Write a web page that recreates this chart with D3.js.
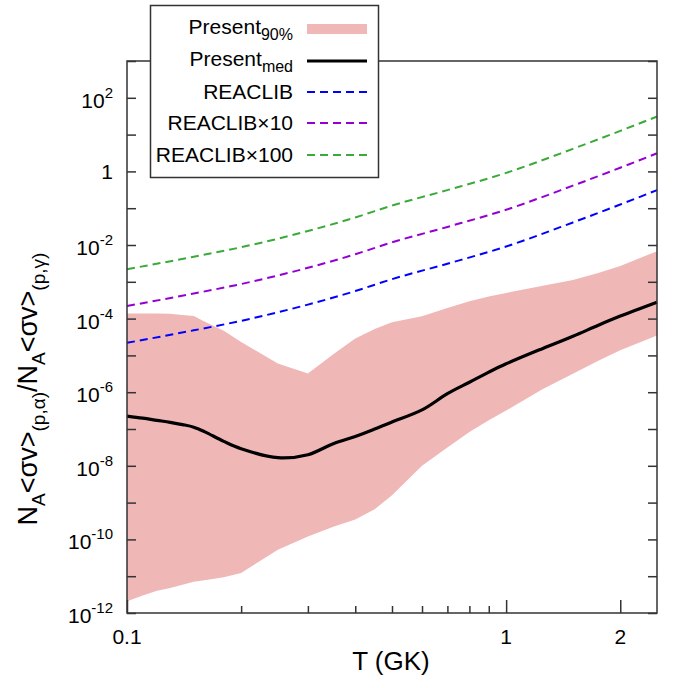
<!DOCTYPE html>
<html>
<head>
<meta charset="utf-8">
<script src="https://cdn.jsdelivr.net/npm/d3@7"></script>
<style>
  body { margin: 0; background: #fff; }
  text { font-family: "Liberation Sans", Arial, sans-serif; fill: #000; }
</style>
</head>
<body>
<div id="chart"></div>
<script>
(function () {

  // Temperature grid (GK) for the present rate
  const temps = [0.10, 0.11, 0.12, 0.13, 0.14, 0.15, 0.16, 0.18, 0.20, 0.25, 0.30, 0.35, 0.40,
    0.45, 0.50, 0.60, 0.70, 0.80, 0.90, 1.0, 1.25, 1.5, 1.75, 2.0, 2.5]
  // 90% band edges and median of the ratio
  const bandHigh = [1.38e-4, 1.38e-4, 1.38e-4, 1.35e-4, 1.26e-4, 1.17e-4, 8.3e-5, 4.7e-5, 2.3e-5, 6.0e-6,
    3.2e-6, 1.07e-5, 2.9e-5, 5.2e-5, 7.9e-5, 1.15e-4, 1.95e-4, 2.95e-4, 4.0e-4, 5.0e-4,
    7.8e-4, 1.12e-3, 1.74e-3, 2.7e-3, 6.8e-3]
  const bandLow = [2.1e-12, 3.0e-12, 4.0e-12, 4.8e-12, 5.9e-12, 7.1e-12, 7.8e-12, 9.3e-12, 1.23e-11, 5.2e-11,
    1.2e-10, 2.2e-10, 3.5e-10, 6.6e-10, 1.58e-9, 1.0e-8, 3.16e-8, 8.3e-8, 1.74e-7, 3.16e-7,
    1.23e-6, 3.16e-6, 7.1e-6, 1.38e-5, 3.5e-5]
  const median = [2.24e-7, 1.97e-7, 1.72e-7, 1.52e-7, 1.32e-7, 1.12e-7, 8.5e-8, 4.6e-8, 2.9e-8, 1.66e-8,
    2.0e-8, 4.0e-8, 6.3e-8, 1.0e-7, 1.55e-7, 3.3e-7, 9.1e-7, 1.86e-6, 3.5e-6, 5.9e-6,
    1.55e-5, 3.3e-5, 6.6e-5, 1.17e-4, 2.8e-4]

  // REACLIB ratio and the scaled copies
  const reaclibTemps = [0.1, 0.15, 0.2, 0.3, 0.4, 0.5, 0.7, 1.0, 1.5, 2.0, 2.5]
  const reaclib = [2.2e-5, 4.8e-5, 8.7e-5, 2.4e-4, 5.6e-4, 1.18e-3, 3.1e-3, 9.1e-3, 0.041, 0.126, 0.31]
  const reaclibFactors = [1, 10, 100]
  const reaclibNames = ["REACLIB", "REACLIB\u00d710", "REACLIB\u00d7100"]
  const reaclibColors = ["#0000ff", "#9400d3", "#3aaa3a"]

  const xTicksMajor = [0.1, 1, 2]
  const xTicksMinor = [0.2, 0.3, 0.4, 0.5, 0.6, 0.7, 0.8, 0.9]
  const yExponents = d3.range(-12, 4)
  const yLabelExponents = [2, 0, -2, -4, -6, -8, -10, -12]

  const W = 676, H = 688
  const margin = { top: 61, right: 19, bottom: 75, left: 127 }
  const width = W - margin.left - margin.right
  const height = H - margin.top - margin.bottom

  const svg = d3.select("#chart").append("svg")
    .attr("width", W)
    .attr("height", H)
  const g = svg.append("g")
    .attr("transform", "translate(" + margin.left + "," + margin.top + ")")

  const x = d3.scaleLog().domain([0.1, 2.5]).range([0, width])
  const y = d3.scaleLog().domain([1e-12, 1e3]).range([height, 0])

  const rows = temps.map((t, i) => ({ t: t, lo: bandLow[i], hi: bandHigh[i], med: median[i] }))

  // 90% band
  g.append("path")
    .datum(rows)
    .attr("fill", "#f0b7b7")
    .attr("d", d3.area().x(d => x(d.t)).y0(d => y(d.lo)).y1(d => y(d.hi)))

  // REACLIB dashed lines
  reaclibFactors.forEach((f, k) => {
    g.append("path")
      .datum(reaclibTemps.map((t, i) => ({ t: t, v: reaclib[i] * f })))
      .attr("fill", "none")
      .attr("stroke", reaclibColors[k])
      .attr("stroke-width", 2)
      .attr("stroke-dasharray", "8,5")
      .attr("d", d3.line().x(d => x(d.t)).y(d => y(d.v)).curve(d3.curveMonotoneX))
  })

  // median
  g.append("path")
    .datum(rows)
    .attr("fill", "none")
    .attr("stroke", "#000")
    .attr("stroke-width", 3.2)
    .attr("d", d3.line().x(d => x(d.t)).y(d => y(d.med)).curve(d3.curveCatmullRom))

  // frame
  g.append("rect")
    .attr("width", width).attr("height", height)
    .attr("fill", "none").attr("stroke", "#333").attr("stroke-width", 1.5)

  // y ticks (both sides, inward)
  const yTickVals = yExponents.map(e => Math.pow(10, e))
  g.append("g").call(d3.axisLeft(y).tickValues(yTickVals).tickSize(-9).tickFormat(""))
    .call(a => a.select(".domain").remove())
    .selectAll("line").attr("stroke", "#333").attr("stroke-width", 1.5)
  g.append("g").attr("transform", "translate(" + width + ",0)")
    .call(d3.axisRight(y).tickValues(yTickVals).tickSize(-9).tickFormat(""))
    .call(a => a.select(".domain").remove())
    .selectAll("line").attr("stroke", "#333").attr("stroke-width", 1.5)

  // x ticks
  g.append("g").attr("transform", "translate(0," + height + ")")
    .call(d3.axisBottom(x).tickValues(xTicksMajor).tickSize(-13).tickFormat(""))
    .call(a => a.select(".domain").remove())
    .selectAll("line").attr("stroke", "#333").attr("stroke-width", 1.5)
  g.append("g").attr("transform", "translate(0," + height + ")")
    .call(d3.axisBottom(x).tickValues(xTicksMinor).tickSize(-7).tickFormat(""))
    .call(a => a.select(".domain").remove())
    .selectAll("line").attr("stroke", "#333").attr("stroke-width", 1.5)

  // x tick labels
  g.selectAll(".xlab").data(xTicksMajor).join("text")
    .attr("x", d => x(d)).attr("y", height + 31)
    .attr("text-anchor", "middle").attr("font-size", 21)
    .text(d => d3.format("")(d))

  // y tick labels with superscripts
  const ylab = g.selectAll(".ylab").data(yLabelExponents).join("text")
    .attr("x", -14).attr("y", d => y(Math.pow(10, d)) + 10)
    .attr("text-anchor", "end").attr("font-size", 21)
  ylab.each(function (e) {
    const t = d3.select(this)
    if (e === 0) { t.attr("y", y(1) + 8).text("1"); return }
    t.append("tspan").text("10")
    t.append("tspan").attr("font-size", 15).attr("dy", -10).text(String(e))
  })

  // axis titles
  svg.append("text")
    .attr("x", 391).attr("y", 670)
    .attr("text-anchor", "middle").attr("font-size", 26)
    .text("T (GK)")

  const yt = svg.append("text")
    .attr("transform", "translate(37,389) rotate(-90)")
    .attr("text-anchor", "middle").attr("font-size", 26)
  const parts = [["N", 0], ["A", 1], ["<\u03c3v>", 0], ["(p,\u03b1)", 1], ["/N", 0], ["A", 1], ["<\u03c3v>", 0], ["(p,\u03b3)", 1]]
  let prev = 0
  parts.forEach(p => {
    const shift = p[1] ? 8 : 0
    yt.append("tspan")
      .attr("font-size", p[1] ? 19 : 27)
      .attr("dy", shift - prev)
      .text(p[0])
    prev = shift
  })

  // legend
  const lg = svg.append("g")
  lg.append("rect")
    .attr("x", 150.5).attr("y", 5.5).attr("width", 228).attr("height", 172)
    .attr("fill", "#fff").attr("stroke", "#333").attr("stroke-width", 1.5)
  const rowY = [29, 61, 92, 123, 155]
  const lx0 = 307, lx1 = 367, tx = 293

  lg.append("rect").attr("x", lx0).attr("y", rowY[0] - 5).attr("width", lx1 - lx0).attr("height", 10)
    .attr("fill", "#f0b7b7")
  lg.append("line").attr("x1", lx0).attr("x2", lx1).attr("y1", rowY[1]).attr("y2", rowY[1])
    .attr("stroke", "#000").attr("stroke-width", 3.2)
  reaclibNames.forEach((n, k) => {
    lg.append("line").attr("x1", lx0).attr("x2", lx1).attr("y1", rowY[k + 2]).attr("y2", rowY[k + 2])
      .attr("stroke", reaclibColors[k]).attr("stroke-width", 2).attr("stroke-dasharray", "8,5")
    lg.append("text").attr("x", tx).attr("y", rowY[k + 2] + 7)
      .attr("text-anchor", "end").attr("font-size", 21).text(n)
  })
  const presentSubs = ["90%", "med"]
  presentSubs.forEach((s, k) => {
    const t = lg.append("text").attr("x", tx).attr("y", rowY[k] + 5)
      .attr("text-anchor", "end").attr("font-size", 21)
    t.append("tspan").text("Present")
    t.append("tspan").attr("font-size", 16).attr("dy", 6).text(s)
  })

})();
</script>
</body>
</html>
